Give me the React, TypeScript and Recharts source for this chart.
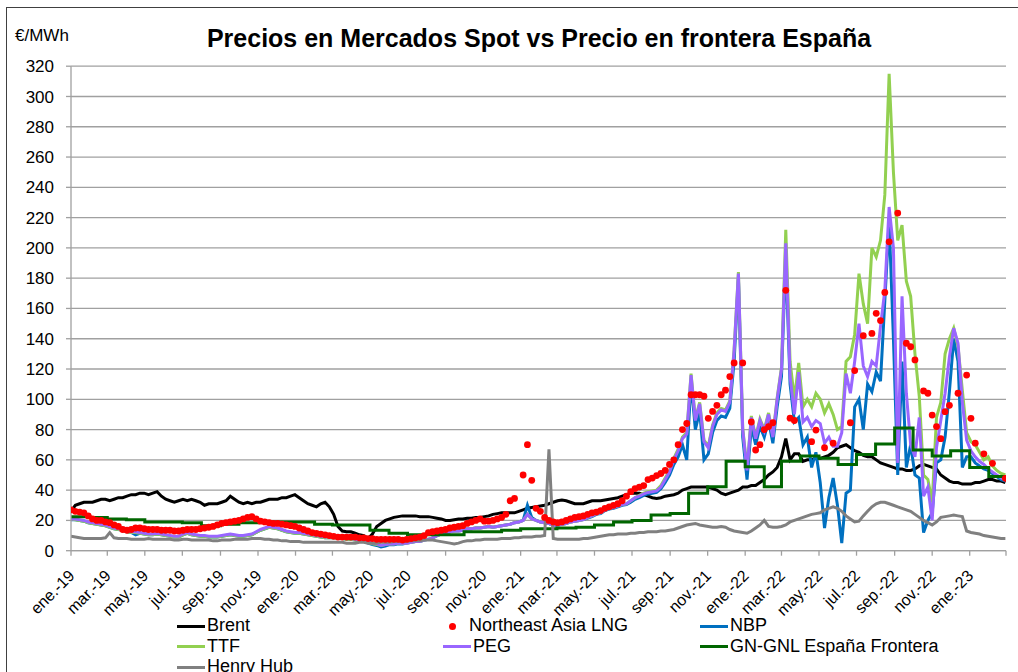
import React from 'react';
import { ComposedChart, Line, XAxis, YAxis, CartesianGrid, Legend } from 'recharts';

const FONT = '"Liberation Sans", Arial, Helvetica, sans-serif';
const START = Date.UTC(2019, 0, 1);
const DAY = 86400000;
const dayOf = (y: number, m: number, d = 1) => Math.round((Date.UTC(y, m, d) - START) / DAY);

// X-axis tick labels (every two months, from ene.-19)
const tickLabels = [
  'ene.-19', 'mar.-19', 'may.-19', 'jul.-19', 'sep.-19', 'nov.-19',
  'ene.-20', 'mar.-20', 'may.-20', 'jul.-20', 'sep.-20', 'nov.-20',
  'ene.-21', 'mar.-21', 'may.-21', 'jul.-21', 'sep.-21', 'nov.-21',
  'ene.-22', 'mar.-22', 'may.-22', 'jul.-22', 'sep.-22', 'nov.-22',
  'ene.-23',
];
const yTicks = [0, 20, 40, 60, 80, 100, 120, 140, 160, 180, 200, 220, 240, 260, 280, 300, 320];

// Weekly series, week i = 1 Jan 2019 + 7*i days (€/MWh)
const brent = [
  26, 30, 31, 32, 32, 32, 33, 34, 34, 33,
  34, 35, 35, 36, 37, 37, 38, 38, 37, 38,
  39, 36, 34, 33, 32, 33, 34, 33, 34, 33,
  32, 30, 31, 31, 31, 32, 33, 36, 34, 32,
  31, 32, 31, 32, 32, 33, 34, 34, 34, 35,
  35, 36, 37, 35, 33, 31, 30, 29, 31, 32,
  29, 24, 16, 13, 12.5, 12.5, 11.5, 10.5, 10, 8,
  11, 16, 18, 20, 21, 22, 22.5, 23, 23, 23,
  23, 22.5, 22.5, 22.5, 22, 21.5, 21, 20, 20, 20.5,
  21, 21, 21.5, 21.5, 22, 22, 22.5, 23, 24, 24.5,
  25, 25, 25, 25, 26, 27, 28, 28.5, 29, 29.5,
  30, 31, 32, 33, 33.5, 33, 32, 31, 31, 31,
  32, 33, 33, 33, 33.5, 34, 34.5, 35, 36, 37,
  38, 38, 38, 37, 36, 35, 34.5, 35, 36, 36.5,
  37, 38, 40, 41, 42, 42, 42, 42, 42, 41,
  40, 38, 37, 38, 39, 40, 42, 42, 43, 43,
  45, 47, 50, 52, 55, 62, 74, 60, 64, 64,
  59, 60, 60, 61, 61, 62, 63, 65, 68, 69,
  70, 68, 66, 65, 63, 62, 62, 60, 58, 57,
  56, 55, 54, 54, 53, 53, 54, 56, 57, 56,
  55, 54, 50, 48, 46, 45, 45, 44, 44, 44,
  45, 45, 46, 47, 47, 46, 46, 45,
];

const neaLng: (number | null)[] = [
  27, 26, 25.5, 25, 23, 21, 20, 20, 19, 18.5,
  17, 16, 14, 13.5, 14, 15, 15, 14.5, 14, 14,
  14, 13.5, 13.5, 13.5, 13, 13, 13.5, 14, 14, 14,
  14.5, 15, 15.5, 16, 17, 18, 18.5, 19, 19.5, 20,
  21, 22, 22.5, 21, 19.5, 19, 18.5, 18, 18, 17.5,
  17, 16.5, 16, 15, 14, 13, 12, 11.5, 11, 10.5,
  10, 9.5, 9, 9, 9, 9, 9, 8.5, 8.5, 8,
  8, 7.5, 7.5, 7.5, 7.5, 7.5, 7.5, 7, 7.5, 8,
  8.5, 9, 10, 12, 12.5, 13, 13.5, 14, 15, 15.5,
  16, 16.5, 18, 19, 20, 21, 19.5, 19.5, 20, 21,
  22, 24, 33, 34.5, null, 50, 70, 46.5, 28, 26,
  22, 20, 19, 18.5, 19, 20, 21, 22, 22.5, 23,
  24, 25, 25.5, 26.5, 28, 29, 30, 31, 33, 36,
  39, 41, 42, 43, 47, 48, 49.6, 51, 53, 57,
  60, 70, 80, 84, 103, 103, 103, 102, 87.4, 92,
  96, 103, 106, 115, 124, null, 124, null, 85, 66.5,
  70, 80, 82, 84.5, null, null, 172, 87.5, 86, null,
  null, null, 72, 79.7, null, 68, null, 71, null, null,
  null, 84.5, 119, null, 142, null, 143.5, 156.8, 152, 170.6,
  204, null, 223, null, 137, 134.7, 126, null, 105.5, 104,
  89.6, 82, 74, 91.8, 96, null, 104, null, 116, 87.4,
  71, null, 64, null, 57.7, null, null, 47.8,
];

const nbp = [
  20.5, 20.5, 20, 19.5, 18.5, 18, 17.5, 17, 16.5, 15.5,
  14.5, 14, 13.5, 12.5, 12, 10.5, 11.5, 11, 10.5, 10.5,
  11, 10.5, 10, 9.5, 9, 9, 10.5, 11.5, 10.5, 10,
  9.5, 9.5, 9, 9, 9, 9.5, 10, 10.5, 10, 9.5,
  9.5, 10, 10.5, 12, 13.5, 14.5, 15.5, 15, 14.5, 13.5,
  12.5, 12, 11.5, 11.5, 11, 10.5, 10, 9.5, 9, 8.5,
  8.5, 8.5, 8.5, 8, 7.5, 7.5, 7, 6.5, 6, 5,
  4, 3.5, 2.5, 3, 4, 4, 4.5, 4.5, 5, 5.5,
  6, 6, 7, 7.5, 8.5, 10, 11, 11.5, 12.5, 13,
  13, 13.5, 14.5, 14.5, 15, 15, 15.5, 16, 15.5, 16,
  16.5, 17, 17.5, 18.5, 19, 20, 30, 22, 20, 19,
  18.5, 18, 16.5, 17, 17.5, 18, 19, 19.5, 20, 20.5,
  21.5, 22.5, 24, 24.5, 26.5, 27.5, 28, 29, 30, 30.5,
  32, 34, 35, 36.5, 37.5, 38, 38.5, 41, 45, 50,
  57, 62, 70, 60, 112, 80, 92, 60, 64, 78,
  86, 89, 88, 94, 125, 180, 75, 47, 82, 70,
  82, 75, 86, 71, 95, 115, 195, 110, 85, 88,
  70, 75, 55, 65, 45, 15, 35, 48, 30, 5,
  38, 40, 95, 100, 80, 110, 105, 118, 112, 165,
  218, 140, 50, 125, 55, 70, 50, 48, 12, 20,
  25, 58, 60, 75, 105, 140, 125, 55, 62, 62,
  58, 56, 54, 53, 51, 49, 47, 46,
];

const ttf = [
  21, 20.5, 20, 19.5, 18.5, 18, 17.5, 17, 16.5, 15.5,
  14.5, 14, 13.5, 12.5, 12, 12, 11.5, 11, 10.5, 10.5,
  11, 10.5, 10, 9.5, 9, 9, 10.5, 11.5, 10.5, 10,
  9.5, 9.5, 9, 9, 9, 9.5, 10, 10.5, 10, 9.5,
  9.5, 10, 10.5, 12, 13.5, 14.5, 15.5, 15, 14.5, 13.5,
  12.5, 12, 11.5, 11.5, 11, 10.5, 10, 9.5, 9, 8.5,
  8.5, 8.5, 8.5, 8, 7.5, 7.5, 7, 6.5, 6, 5.5,
  4.5, 4, 3.5, 4, 4.5, 4.5, 5, 5, 5, 5.5,
  6, 6, 7, 7.5, 8.5, 10, 11, 11.5, 12.5, 13,
  13, 13.5, 14.5, 14.5, 15, 15, 15.5, 16, 15.5, 16,
  16.5, 17, 17.5, 18.5, 19, 20, 24, 21, 20, 19,
  18.5, 18, 16.5, 17, 17.5, 18, 19, 19.5, 20, 20.5,
  22, 23, 24.5, 25, 27, 28, 28.5, 29.5, 30.5, 31,
  33, 35, 36.5, 38, 39, 39.5, 40, 43, 48, 53,
  61, 67, 75, 78, 117, 87, 98, 73, 69, 83,
  91, 94, 93, 99, 133, 184, 81, 54, 89, 75,
  87, 80, 91, 76, 101, 121, 212, 125, 100, 124,
  95, 100, 95, 104, 100, 91, 97, 90, 80, 82,
  125, 128, 143, 183, 163, 150, 200, 194, 205, 235,
  315, 250, 205, 215, 178, 168, 130, 102, 50, 47,
  32, 88, 98, 130, 140, 147, 135, 106, 78, 72,
  70, 65, 60, 62, 56, 53, 51, 50,
];

const peg = [
  21, 21, 20.5, 20, 19, 18.5, 18, 17.5, 17, 16,
  15, 14.5, 14, 13, 12.5, 12.5, 12, 11.5, 11, 11,
  11.5, 11, 10.5, 10, 9.5, 9.5, 11, 12, 11, 10.5,
  10, 10, 9.5, 9.5, 9.5, 10, 10.5, 11, 10.5, 10,
  10, 10.5, 11, 12.5, 14, 15, 16, 15.5, 15, 14,
  13, 12.5, 12, 12, 11.5, 11, 10.5, 10, 9.5, 9,
  9, 9, 9, 8.5, 8, 8, 7.5, 7, 6.5, 6,
  5, 4.5, 3.5, 4, 4.5, 4.5, 5, 5, 5, 5.5,
  6, 6, 7, 7.5, 8.5, 10, 11, 11.5, 12.5, 13,
  13, 13.5, 14.5, 14.5, 15, 15, 15.5, 16, 15.5, 16,
  16.5, 17, 17.5, 18.5, 19, 20, 24, 21, 20, 19,
  18.5, 18, 16.5, 17, 17.5, 18, 19, 19.5, 20, 20.5,
  22, 23, 24.5, 25, 27, 28, 28.5, 29.5, 30.5, 31,
  33, 35, 36, 37.5, 38.5, 39, 39.5, 42, 47, 52,
  60, 66, 74, 77, 116, 86, 97, 72, 68, 82,
  90, 93, 92, 98, 132, 183, 80, 53, 88, 74,
  86, 79, 90, 75, 100, 120, 203, 115, 90, 118,
  85, 88, 82, 86, 84, 71, 75, 69, 69, 78,
  117, 104, 125, 150, 122, 115, 125, 122, 148, 172,
  227, 200, 58, 168, 104, 70, 62, 88, 36, 42,
  20, 68, 86, 104, 128, 147, 137, 98, 73, 66,
  62, 59, 57, 54, 52, 50, 48, 47,
];

const henryHub = [
  9.5, 9, 8.5, 8, 8, 8, 8, 8, 8.5, 12,
  8.5, 8, 8, 8, 7.5, 7.5, 7.5, 7.5, 8, 7.5,
  7.5, 7.5, 7.5, 7.5, 7, 7, 7.5, 7.5, 7, 7,
  7, 7, 7, 6.5, 6.5, 7, 7, 7, 7.5, 7.5,
  7.5, 7.5, 8, 8, 8, 7.5, 7.5, 7, 7, 6.5,
  6.5, 6, 6, 6, 5.5, 5.5, 5.5, 5.5, 5.5, 5.5,
  5.5, 5.5, 5.5, 5.5, 5, 5, 5, 5.5, 5.5, 5,
  5, 5, 5.5, 5.5, 5.5, 6, 6, 6, 6, 6.5,
  6.5, 6.5, 7, 7, 7, 6.5, 6, 5.5, 5, 4.5,
  5, 6, 6.5, 6.5, 7, 7, 7.5, 7.5, 7.5, 7.5,
  8, 8, 8, 8.5, 8.5, 9, 9, 9, 9.5, 9.5,
  10, 67, 8, 7.5, 7.5, 7.5, 7.5, 7.5, 7.5, 8,
  8, 8.5, 9, 9.5, 10, 10.5, 10.5, 11, 11, 11,
  11.5, 11.5, 12, 12, 12.5, 12.5, 12.5, 13, 13, 13.5,
  14, 15, 16, 17, 17.5, 18, 17, 16.5, 16, 15.5,
  15.5, 16, 15.5, 14, 13, 12.5, 12, 11.5, 13, 15,
  17, 20, 16, 15.5, 15.5, 16, 17, 19, 20, 21,
  22, 23, 24, 24.5, 25, 27, 28, 29, 28, 26,
  23, 21, 19, 19.5, 23, 26, 29, 31, 32, 32,
  31, 30, 29, 28, 27, 26, 24, 22, 20, 18.5,
  17, 19, 22, 22.5, 23, 23.5, 23, 22.5, 13, 12,
  11.5, 11, 10, 9.5, 9, 8.5, 8, 8,
];

// Monthly border price, Jan 2019 .. Feb 2023
const gnGnl = [
  22.5, 22, 21, 20.5, 19, 19, 18.5, 16.5, 17.5, 18.5, 19, 19,
  19, 17.5, 17, 17, 13.5, 11.5, 10.5, 10.5, 10.5, 12.5, 12.5, 13.5,
  14.5, 14.5, 15, 15.5, 17, 19, 20, 23.5, 24.5, 38, 42.3, 59,
  55.5, 42.3, 59, 62.5, 61, 57, 63.5, 70.5, 81, 66.5, 62.5, 66,
  55, 49,
];

const END_DAY = dayOf(2023, 2);
const tickDays = [...tickLabels.map((_, k) => dayOf(2019, 2 * k)), END_DAY];

const weekly = brent.map((_, i) => ({
  x: 7 * i,
  brent: brent[i],
  nea: neaLng[i],
  nbp: nbp[i],
  ttf: ttf[i],
  peg: peg[i],
  hh: henryHub[i],
}));
const gnData = [
  ...gnGnl.map((v, m) => ({ x: dayOf(2019, m), v })),
  { x: END_DAY - 1, v: gnGnl[gnGnl.length - 1] },
];

const COLORS = {
  brent: '#000000',
  nea: '#FF0000',
  nbp: '#0070C0',
  ttf: '#92D050',
  peg: '#9966FF',
  gn: '#006600',
  hh: '#808080',
};

const legendItems = [
  { name: 'Brent', color: COLORS.brent, kind: 'line' },
  { name: 'Northeast Asia LNG', color: COLORS.nea, kind: 'dot' },
  { name: 'NBP', color: COLORS.nbp, kind: 'line' },
  { name: 'TTF', color: COLORS.ttf, kind: 'line' },
  { name: 'PEG', color: COLORS.peg, kind: 'line' },
  { name: 'GN-GNL España Frontera', color: COLORS.gn, kind: 'line' },
  { name: 'Henry Hub', color: COLORS.hh, kind: 'line' },
];

const colX = [177, 443, 700];
const rowY = [626, 646.5, 667];

const renderLegend = () => (
  <div style={{ position: 'relative', width: 1018, height: 672, pointerEvents: 'none' }}>
    {legendItems.map((it, k) => {
      const col = k % 3;
      const row = Math.floor(k / 3);
      const x0 = colX[col];
      const cy = rowY[row];
      return (
        <div key={it.name}>
          {it.kind === 'line' ? (
            <div style={{ position: 'absolute', left: x0, top: cy - 1.5, width: 28, height: 3, background: it.color }} />
          ) : (
            <div style={{ position: 'absolute', left: x0 + 6, top: cy - 3.5, width: 7, height: 7, borderRadius: '50%', background: it.color }} />
          )}
          <div
            style={{
              position: 'absolute',
              left: x0 + (it.kind === 'line' ? 30 : 26),
              top: cy - 10,
              fontFamily: FONT,
              fontSize: 18,
              lineHeight: '18px',
              color: '#000',
              whiteSpace: 'nowrap',
            }}
          >
            {it.name}
          </div>
        </div>
      );
    })}
  </div>
);

const XTick = (props: any) => {
  const { x, y, payload } = props;
  const idx = tickDays.indexOf(payload.value);
  const label = idx >= 0 && idx < tickLabels.length ? tickLabels[idx] : '';
  return (
    <g transform={`translate(${x + 4.5},${y + 21})`}>
      <text textAnchor="end" transform="rotate(-45)" fontSize={16} fontFamily={FONT} fill="#000">
        {label}
      </text>
    </g>
  );
};

const NeaDot = (p: any) => {
  if (p.value === null || p.value === undefined || p.cy === null || p.cy === undefined || Number.isNaN(p.cy)) {
    return <g key={`n-${p.index}`} />;
  }
  return <circle key={`n-${p.index}`} cx={p.cx} cy={p.cy} r={3.4} fill={COLORS.nea} stroke="none" />;
};

export default function App() {
  return (
    <div style={{ position: 'absolute', left: 0, top: 0, width: 1018, height: 672, overflow: 'hidden', background: '#fff' }}>
      <div style={{ position: 'absolute', left: 6, top: 7, width: 1100, height: 800, border: '1px solid #404040' }} />
      <div
        style={{
          position: 'absolute', left: 0, top: 25.5, width: 1078, textAlign: 'center',
          fontFamily: FONT, fontWeight: 'bold', fontSize: 25, lineHeight: '25px', color: '#000',
        }}
      >
        Precios en Mercados Spot vs Precio en frontera España
      </div>
      <div style={{ position: 'absolute', left: 15, top: 27.3, fontFamily: FONT, fontSize: 17, lineHeight: '17px', color: '#000' }}>
        €/MWh
      </div>
      <div style={{ position: 'absolute', left: 0, top: 0 }}>
        <ComposedChart width={1018} height={672} data={weekly} margin={{ top: 66.2, right: 12, bottom: 0, left: 0 }}>
          <CartesianGrid horizontal vertical={false} stroke="#A0A0A0" strokeWidth={1.3} />
          <XAxis
            type="number"
            dataKey="x"
            domain={[0, END_DAY]}
            allowDataOverflow
            ticks={tickDays}
            interval={0}
            tick={<XTick />}
            tickSize={5}
            tickMargin={0}
            height={121.3}
            stroke="#A0A0A0"
            strokeWidth={1.3}
          />
          <YAxis
            type="number"
            domain={[0, 320]}
            allowDataOverflow
            ticks={yTicks}
            interval={0}
            width={71}
            tickSize={5}
            tickMargin={12}
            stroke="#A0A0A0"
            strokeWidth={1.3}
            tick={{ fontSize: 17, fill: '#000', fontFamily: FONT }}
          />
          <Legend layout="horizontal" verticalAlign="middle" align="center" wrapperStyle={{ left: 0, top: 0, width: 1018, height: 672 }} content={renderLegend} />
          <Line dataKey="brent" stroke={COLORS.brent} strokeWidth={3} dot={false} activeDot={false} isAnimationActive={false} type="linear" />
          <Line dataKey="nea" stroke="none" strokeWidth={0} dot={NeaDot} activeDot={false} isAnimationActive={false} type="linear" />
          <Line dataKey="nbp" stroke={COLORS.nbp} strokeWidth={3} dot={false} activeDot={false} isAnimationActive={false} type="linear" />
          <Line dataKey="ttf" stroke={COLORS.ttf} strokeWidth={3} dot={false} activeDot={false} isAnimationActive={false} type="linear" />
          <Line dataKey="peg" stroke={COLORS.peg} strokeWidth={3} dot={false} activeDot={false} isAnimationActive={false} type="linear" />
          <Line data={gnData} dataKey="v" stroke={COLORS.gn} strokeWidth={3} dot={false} activeDot={false} isAnimationActive={false} type="stepAfter" />
          <Line dataKey="hh" stroke={COLORS.hh} strokeWidth={3} dot={false} activeDot={false} isAnimationActive={false} type="linear" />
        </ComposedChart>
      </div>
    </div>
  );
}
